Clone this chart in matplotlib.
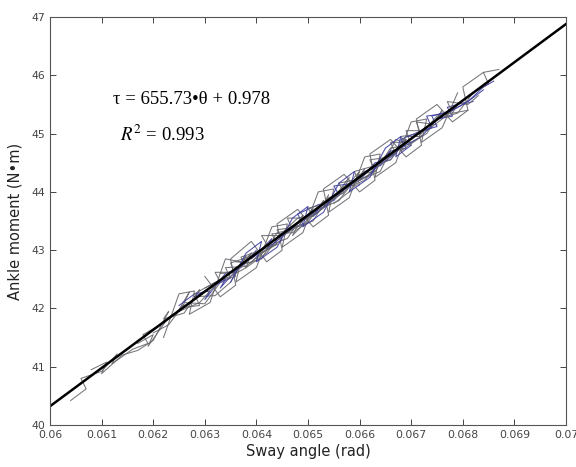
import numpy as np
import matplotlib
matplotlib.use('Agg')
import matplotlib.pyplot as plt

plt.rcParams['mathtext.fontset'] = 'stix'

# regression from the figure
slope = 655.73
intercept = 0.978
r2 = 0.993

# measured sway traces (theta in rad, tau in N*m)
traces = [
    ([0.0604, 0.0607, 0.0606, 0.0610, 0.0613, 0.0612, 0.0616, 0.0619, 0.0618, 0.0622, 0.0625, 0.0627, 0.0626, 0.0630, 0.0633, 0.0632, 0.0636, 0.0639],
     [40.42, 40.62, 40.80, 40.92, 41.22, 41.05, 41.30, 41.40, 41.55, 41.75, 41.98, 42.28, 42.10, 42.08, 42.45, 42.62, 42.62, 42.95], 'gray'),
    ([0.0608, 0.0611, 0.0610, 0.0614, 0.0617, 0.0620, 0.0623, 0.0622, 0.0626, 0.0629, 0.0628, 0.0632, 0.0635, 0.0638, 0.0637, 0.0641, 0.0644, 0.0647, 0.0646, 0.0650],
     [40.95, 41.08, 40.88, 41.20, 41.28, 41.45, 41.95, 41.82, 41.92, 42.32, 42.20, 42.22, 42.45, 42.90, 42.75, 42.85, 43.30, 43.35, 43.55, 43.55], 'gray'),
    ([0.0625, 0.0628, 0.0631, 0.0630, 0.0634, 0.0637, 0.0640, 0.0639, 0.0643, 0.0646, 0.0649, 0.0648, 0.0652, 0.0655, 0.0658, 0.0657, 0.0661, 0.0664],
     [42.05, 42.25, 42.30, 42.15, 42.60, 42.70, 43.00, 42.85, 43.15, 43.35, 43.45, 43.62, 43.78, 43.85, 44.15, 44.05, 44.35, 44.45], 'blue'),
    ([0.0630, 0.0633, 0.0636, 0.0635, 0.0639, 0.0642, 0.0645, 0.0644, 0.0648, 0.0651, 0.0654, 0.0653, 0.0657, 0.0660, 0.0663, 0.0662, 0.0666, 0.0669, 0.0672, 0.0671, 0.0675],
     [42.35, 42.48, 42.55, 42.78, 42.90, 43.00, 43.18, 43.35, 43.40, 43.50, 43.95, 43.75, 44.00, 44.30, 44.35, 44.55, 44.60, 44.95, 44.95, 45.20, 45.15], 'gray'),
    ([0.0640, 0.0643, 0.0646, 0.0649, 0.0648, 0.0652, 0.0655, 0.0658, 0.0657, 0.0661, 0.0664, 0.0667, 0.0666, 0.0670, 0.0673, 0.0676, 0.0675, 0.0679, 0.0682, 0.0685, 0.0684, 0.0687],
     [42.85, 43.10, 43.20, 43.60, 43.45, 43.65, 43.90, 44.25, 44.05, 44.20, 44.55, 44.65, 44.85, 44.85, 45.00, 45.40, 45.25, 45.35, 45.70, 45.85, 46.05, 46.10], 'gray'),
    ([0.0650, 0.0653, 0.0656, 0.0655, 0.0659, 0.0662, 0.0665, 0.0664, 0.0668, 0.0671, 0.0674, 0.0673, 0.0677, 0.0680, 0.0682],
     [43.55, 43.80, 43.95, 44.10, 44.15, 44.30, 44.60, 44.45, 44.75, 45.00, 45.10, 45.30, 45.35, 45.50, 45.55], 'blue'),
    ([0.0655, 0.0658, 0.0661, 0.0660, 0.0664, 0.0667, 0.0670, 0.0669, 0.0673, 0.0676, 0.0679, 0.0678, 0.0681],
     [43.80, 44.00, 44.40, 44.20, 44.35, 44.90, 44.80, 45.05, 45.05, 45.25, 45.50, 45.35, 45.40], 'gray'),
    ([0.0620, 0.0623, 0.0626, 0.0625, 0.0629, 0.0632, 0.0635, 0.0634, 0.0638, 0.0641, 0.0644, 0.0643, 0.0647, 0.0650, 0.0653, 0.0652, 0.0656, 0.0659],
     [41.58, 41.72, 42.08, 41.95, 42.10, 42.40, 42.52, 42.70, 42.72, 42.95, 43.10, 43.28, 43.30, 43.48, 43.85, 43.70, 43.85, 44.20], 'gray'),
    ([0.0660, 0.0663, 0.0666, 0.0669, 0.0668, 0.0672, 0.0675, 0.0678, 0.0677, 0.0681, 0.0684],
     [44.20, 44.50, 44.55, 44.90, 44.75, 44.95, 45.25, 45.30, 45.45, 45.55, 45.75], 'blue'),
    ([0.0633, 0.0636, 0.0639, 0.0638, 0.0642, 0.0645, 0.0648, 0.0647, 0.0651, 0.0654, 0.0657, 0.0656, 0.0660, 0.0663, 0.0666, 0.0665, 0.0668],
     [42.60, 42.62, 42.95, 42.70, 42.95, 43.30, 43.42, 43.25, 43.62, 43.90, 43.98, 44.15, 44.22, 44.45, 44.70, 44.55, 44.75], 'gray'),
    ([0.0628, 0.0631, 0.0634, 0.0633, 0.0637, 0.0640, 0.0643, 0.0642, 0.0646, 0.0649, 0.0652, 0.0651, 0.0655, 0.0658, 0.0661],
     [42.20, 42.35, 42.50, 42.35, 42.75, 42.92, 43.20, 43.02, 43.30, 43.55, 43.70, 43.58, 43.90, 44.10, 44.32], 'blue'),
    ([0.0645, 0.0648, 0.0651, 0.0650, 0.0654, 0.0657, 0.0660, 0.0659, 0.0663, 0.0666, 0.0669, 0.0668, 0.0672, 0.0675, 0.0678, 0.0677, 0.0681, 0.0683],
     [43.30, 43.55, 43.58, 43.72, 43.80, 44.05, 44.35, 44.15, 44.35, 44.75, 44.80, 44.95, 45.00, 45.30, 45.35, 45.55, 45.50, 45.65], 'gray'),
    ([0.0617, 0.0620, 0.0619, 0.0623, 0.0626, 0.0629, 0.0628, 0.0632, 0.0635, 0.0638, 0.0637, 0.0641, 0.0644],
     [41.40, 41.55, 41.35, 41.85, 42.02, 42.05, 42.25, 42.45, 42.55, 42.70, 42.88, 43.00, 43.10], 'gray'),
    ([0.0663, 0.0666, 0.0669, 0.0668, 0.0672, 0.0675, 0.0674, 0.0678, 0.0681, 0.0684, 0.0686],
     [44.40, 44.70, 44.75, 44.90, 45.05, 45.12, 45.30, 45.40, 45.55, 45.80, 45.90], 'blue'),
    ([0.0636, 0.0639, 0.0642, 0.0641, 0.0645, 0.0648, 0.0651, 0.0650, 0.0654, 0.0657, 0.0660, 0.0659, 0.0663, 0.0666, 0.0669, 0.0668, 0.0672],
     [42.80, 42.78, 43.10, 43.25, 43.25, 43.40, 43.72, 43.55, 43.78, 44.10, 44.12, 44.35, 44.45, 44.55, 44.90, 44.70, 44.95], 'gray'),
    ([0.0622, 0.0625, 0.0628, 0.0627, 0.0631, 0.0634, 0.0637, 0.0636, 0.0640, 0.0643, 0.0646, 0.0645, 0.0649, 0.0652, 0.0655, 0.0654, 0.0658, 0.0661, 0.0664, 0.0663, 0.0667, 0.0670, 0.0673, 0.0672, 0.0676, 0.0679],
     [41.50, 42.25, 42.30, 41.90, 42.10, 42.85, 42.80, 42.45, 42.70, 43.40, 43.45, 43.05, 43.30, 44.00, 44.05, 43.65, 43.90, 44.60, 44.65, 44.25, 44.50, 45.20, 45.25, 44.85, 45.10, 45.70], 'gray'),
    ([0.0630, 0.0633, 0.0636, 0.0635, 0.0639, 0.0642, 0.0645, 0.0644, 0.0648, 0.0651, 0.0654, 0.0653, 0.0657, 0.0660, 0.0663, 0.0662, 0.0666, 0.0669, 0.0672, 0.0671, 0.0675, 0.0678, 0.0681, 0.0680, 0.0684],
     [42.55, 42.20, 42.40, 42.85, 43.15, 42.80, 43.00, 43.45, 43.70, 43.40, 43.60, 44.05, 44.30, 44.00, 44.20, 44.65, 44.90, 44.60, 44.80, 45.25, 45.50, 45.20, 45.40, 45.80, 46.05], 'gray'),
    ([0.0635, 0.0638, 0.0641, 0.0640, 0.0644, 0.0647, 0.0650, 0.0649, 0.0653, 0.0656, 0.0659, 0.0658, 0.0662, 0.0665, 0.0668, 0.0667, 0.0670],
     [42.45, 42.95, 43.15, 42.80, 43.05, 43.55, 43.75, 43.40, 43.65, 44.15, 44.35, 44.00, 44.25, 44.75, 44.95, 44.60, 44.80], 'blue'),
]

colors = {'gray': '#66666c', 'blue': '#3a3a9e'}

fig = plt.figure(figsize=(5.76, 4.67), dpi=100)
ax = fig.add_axes([0.0868, 0.0899, 0.8958, 0.8737])

for th, tau, c in traces:
    ax.plot(th, tau, color=colors[c], lw=0.75, alpha=0.9)

xfit = np.array([0.06, 0.07])
ax.plot(xfit, slope * xfit + intercept, color='black', lw=1.8)

ax.set_xlim(0.06, 0.07)
ax.set_ylim(40, 47)
xt = np.round(np.arange(0.06, 0.0701, 0.001), 3)
ax.set_xticks(xt)
ax.set_xticklabels(['%g' % v for v in xt])
ax.set_yticks(range(40, 48))
ax.tick_params(direction='in', top=True, right=True, labelsize=7.8,
               colors='#444444', length=4, width=0.7)
for s in ax.spines.values():
    s.set_color('#555555')
    s.set_linewidth(0.8)

ax.set_xlabel('Sway angle (rad)', fontsize=10.5, color='#222222', labelpad=3)
ax.set_ylabel('Ankle moment (N\u2022m)', fontsize=10.5, color='#222222', labelpad=6)

ax.text(0.06122, 45.58, '\u03c4 = %.2f\u2022\u03b8 + %.3f' % (slope, intercept),
        family='Liberation Serif', fontsize=13.5, va='center')
ax.text(0.06136, 44.98, r'$R^2$ = %.3f' % r2,
        family='Liberation Serif', fontsize=13.5, va='center')

fig.savefig('out.png', dpi=100)
